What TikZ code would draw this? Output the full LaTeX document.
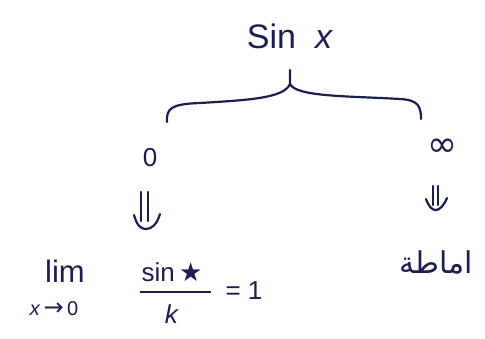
\documentclass[tikz,border=0pt]{standalone}
\usepackage{fontspec}
\setmainfont{Liberation Sans}
\newfontfamily\arabicfont[Script=Arabic]{DejaVu Sans}
\newfontfamily\symfont{DejaVu Sans}
\TeXXeTstate=1
\definecolor{ink}{RGB}{28,30,78}
\begin{document}
\begin{tikzpicture}[x=1pt,y=-1pt,
  lbl/.style={text=ink, inner sep=0pt, font=\fontsize{#1}{#1}\selectfont},
  lbl/.default=26,
  pen/.style={draw=ink, line width=2.2pt, line cap=round, line join=round}]
\useasboundingbox (0,0) rectangle (485,338);
\node[lbl=34] (top) at (290,36) {Sin\ \ \textit{x}};
\coordinate (peak) at (290,70);
\coordinate (bl) at (167,122);
\coordinate (br) at (421,119);
\draw[pen] (bl) .. controls (166,108) and (172,104) .. (200,103)
  .. controls (250,100) and (284,98) .. (290,84) -- (peak);
\draw[pen] (290,84) .. controls (296,97) and (350,96) .. (400,99)
  .. controls (418,100) and (421,106) .. (br);
\node[lbl=26] (zero) at (150,158) {0};
\node[lbl=36] (inf) at (442,148) {\symfont ∞};
% left double arrow
\coordinate (aL1) at (141,192);
\coordinate (aL2) at (148,192);
\draw[pen] (aL1) -- (141,221);
\draw[pen] (aL2) -- (148,221);
\draw[pen] (134,215) .. controls (137,226) and (141,229) .. (146,229)
  .. controls (152,229) and (157,224) .. (160,214);
% right double arrow
\coordinate (aR1) at (433,186);
\coordinate (aR2) at (438,186);
\draw[pen] (aR1) -- (433,205);
\draw[pen] (aR2) -- (438,205);
\draw[pen] (426,199) .. controls (429,207) and (432,210) .. (436,210)
  .. controls (440,210) and (444,205) .. (447,198);
\node[lbl=30] (arab) at (436,262) {\arabicfont\beginR اماطة\endR};
\node[lbl=31] (lim) at (65,271) {lim};
\node[lbl=20] (sub) at (54,309) {\textit{x}\,{\symfont\fontsize{24}{24}\selectfont →}\,0};
\node[lbl=26] (num) at (172,272) {sin\,{\symfont ★}};
\draw[ink, line width=1.6pt] (140,292) -- (211,292);
\node[lbl=26] (den) at (172,314) {\textit{k}};
\node[lbl=26] (eq) at (244,291) {= 1};
\end{tikzpicture}
\end{document}
